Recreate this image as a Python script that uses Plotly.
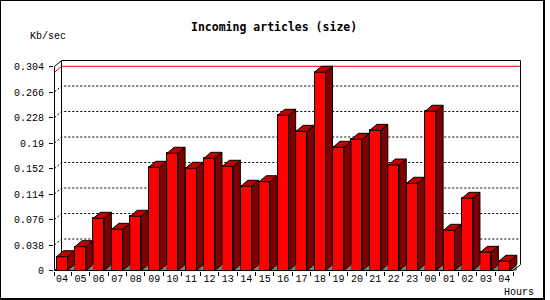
import plotly.graph_objects as go

# ---------------- data ----------------
hours = ["04", "05", "06", "07", "08", "09", "10", "11", "12", "13", "14", "15",
         "16", "17", "18", "19", "20", "21", "22", "23", "00", "01", "02", "03", "04"]
kb_per_sec = [0.0206, 0.0355, 0.0778, 0.0614, 0.0808, 0.1538, 0.1747, 0.1523,
              0.1672, 0.1553, 0.1255, 0.1323, 0.2313, 0.2074, 0.2954, 0.1836,
              0.1955, 0.2089, 0.1572, 0.1300, 0.2373, 0.0599, 0.1076, 0.0271, 0.0137]
y_tick_values = [0, 0.038, 0.076, 0.114, 0.152, 0.19, 0.228, 0.266, 0.304]
y_tick_labels = ["0", "0.038", "0.076", "0.114", "0.152", "0.19", "0.228", "0.266", "0.304"]
chart_title = "Incoming articles (size)"
y_title = "Kb/sec"
x_title = "Hours"

# ---------------- layout geometry (pixels) ----------------
W, H = 550, 300
PL, PR, PT, PB = 54, 521, 60, 271       # plot area
S = 18.43                               # px per category
KY = 671.0                              # px per unit of value
X0 = 62.0                               # px of first category centre
Y0 = 270.5                              # px of value 0 on front plane
DX, DY = 7.0, 6.0                       # depth offset
BAR_W = 11.0                            # bar front width px

def x_of_px(px):
    return (px - X0) / S

def y_of_py(py):
    return (Y0 - py) / KY

def paper_x(px):
    return (px - PL) / (PR - PL)

def paper_y(py):
    return (PB - py) / (PB - PT)

n = len(hours)
dxu = DX / S
dyu = DY / KY
half = BAR_W / 2 / S
xa = x_of_px(54.5)                      # front axis
xr = n - 0.5                            # front right end
xbr = xr + dxu                          # back right
ytop = y_tick_values[-1]
vmax = max(kb_per_sec)

# ---------------- faces ----------------
tri_x, tri_y, side_x, side_y, top_x, top_y = [], [], [], [], [], []
for i, v in enumerate(kb_per_sec):
    xl, xrr = i - half, i + half
    tri_x += [xrr, xrr + dxu, xrr + dxu, xrr, None]
    tri_y += [0, dyu, 0, 0, None]
    side_x += [xrr, xrr, xrr + dxu, xrr + dxu, xrr, None]
    side_y += [0, v, v + dyu, dyu, 0, None]
    top_x += [xl, xl + dxu, xrr + dxu, xrr, xl, None]
    top_y += [v, v + dyu, v + dyu, v, v, None]

fig = go.Figure()
fig.add_trace(go.Bar(
    x=list(range(n)), y=kb_per_sec, width=BAR_W / S, offset=-half,
    marker=dict(color="#FF0000", line=dict(color="black", width=1)),
    hoverinfo="skip"))
fig.add_trace(go.Scatter(x=tri_x, y=tri_y, mode="lines", fill="toself",
                         fillcolor="#808080", line=dict(width=0, color="#808080"),
                         hoverinfo="skip"))
fig.add_trace(go.Scatter(x=side_x, y=side_y, mode="lines", fill="toself",
                         fillcolor="#800000", line=dict(width=1, color="black"),
                         hoverinfo="skip"))
fig.add_trace(go.Scatter(x=top_x, y=top_y, mode="lines", fill="toself",
                         fillcolor="#C00000", line=dict(width=1, color="black"),
                         hoverinfo="skip"))
# front floor line + right floor diagonal
fig.add_trace(go.Scatter(x=[xa, xr, xbr], y=[0, 0, dyu], mode="lines",
                         line=dict(width=1, color="black"), hoverinfo="skip"))

shapes = []
# dotted gridlines on back plane
for v in y_tick_values[1:-1]:
    shapes.append(dict(type="path", xref="x", yref="y", layer="below",
                       path=f"M {xa},{v} L {xa + dxu},{v + dyu} L {xbr},{v + dyu}",
                       line=dict(color="black", width=1, dash="2px,2px")))
# max line
shapes.append(dict(type="path", xref="x", yref="y", layer="below",
                   path=f"M {xa},{vmax} L {xa + dxu},{vmax + dyu} L {xbr},{vmax + dyu}",
                   line=dict(color="#FF0000", width=1)))
# frame
frame_path = (f"M {xa},0 L {xa},{ytop} L {xa + dxu},{ytop + dyu} L {xbr},{ytop + dyu} "
              f"L {xbr},{dyu} M {xa + dxu},{ytop + dyu} L {xa + dxu},{dyu} "
              f"M {xa},0 L {xa + dxu},{dyu}")
shapes.append(dict(type="path", xref="x", yref="y", layer="below", path=frame_path,
                   line=dict(color="black", width=1)))
# outer border
shapes += [
    dict(type="line", xref="paper", yref="paper", x0=paper_x(0.5), x1=paper_x(0.5),
         y0=paper_y(0), y1=paper_y(300), line=dict(color="black", width=1)),
    dict(type="line", xref="paper", yref="paper", x0=paper_x(0), x1=paper_x(545),
         y0=paper_y(0.5), y1=paper_y(0.5), line=dict(color="black", width=1)),
    dict(type="line", xref="paper", yref="paper", x0=paper_x(544), x1=paper_x(544),
         y0=paper_y(0), y1=paper_y(300), line=dict(color="black", width=2)),
    dict(type="line", xref="paper", yref="paper", x0=paper_x(0), x1=paper_x(545),
         y0=paper_y(299), y1=paper_y(299), line=dict(color="black", width=2)),
]

mono_bold = "DejaVu Sans Mono"
mono = "Liberation Mono"
annotations = [
    dict(text=chart_title, xref="paper", yref="paper", x=paper_x(273.7), y=paper_y(26.7),
         xanchor="center", yanchor="middle", showarrow=False,
         font=dict(family=mono_bold, size=11.5, color="black", weight="bold")),
    dict(text=y_title, xref="paper", yref="paper", x=paper_x(47.5), y=paper_y(36.7),
         xanchor="center", yanchor="middle", showarrow=False,
         font=dict(family=mono, size=10, color="black")),
    dict(text=x_title, xref="paper", yref="paper", x=paper_x(518.8), y=paper_y(292.7),
         xanchor="center", yanchor="middle", showarrow=False,
         font=dict(family=mono, size=10, color="black")),
]

fig.update_layout(
    width=W, height=H, margin=dict(l=PL, r=W - PR, t=PT, b=H - PB, pad=0),
    paper_bgcolor="white", plot_bgcolor="white", showlegend=False,
    shapes=shapes, annotations=annotations, bargap=0,
    xaxis=dict(range=[x_of_px(PL), x_of_px(PR)], tickmode="array",
               tickvals=list(range(n)), ticktext=hours, ticks="",
               showline=False, showgrid=False, zeroline=False, fixedrange=True,
               tickfont=dict(family=mono, size=10, color="black"),
               minor=dict(tickmode="array", tickvals=[xa] + [i + 0.5 for i in range(n)],
                          ticks="outside", ticklen=4, tickcolor="black", tickwidth=1,
                          showgrid=False)),
    yaxis=dict(range=[y_of_py(PB), y_of_py(PT)], tickmode="array",
               tickvals=y_tick_values, ticktext=y_tick_labels, ticks="outside",
               ticklen=4, tickcolor="black", tickwidth=1, ticklabelstandoff=3,
               showline=False, showgrid=False, zeroline=False, fixedrange=True,
               tickfont=dict(family=mono, size=10, color="black")),
)

fig.write_html("out.html", config={"displayModeBar": False})
